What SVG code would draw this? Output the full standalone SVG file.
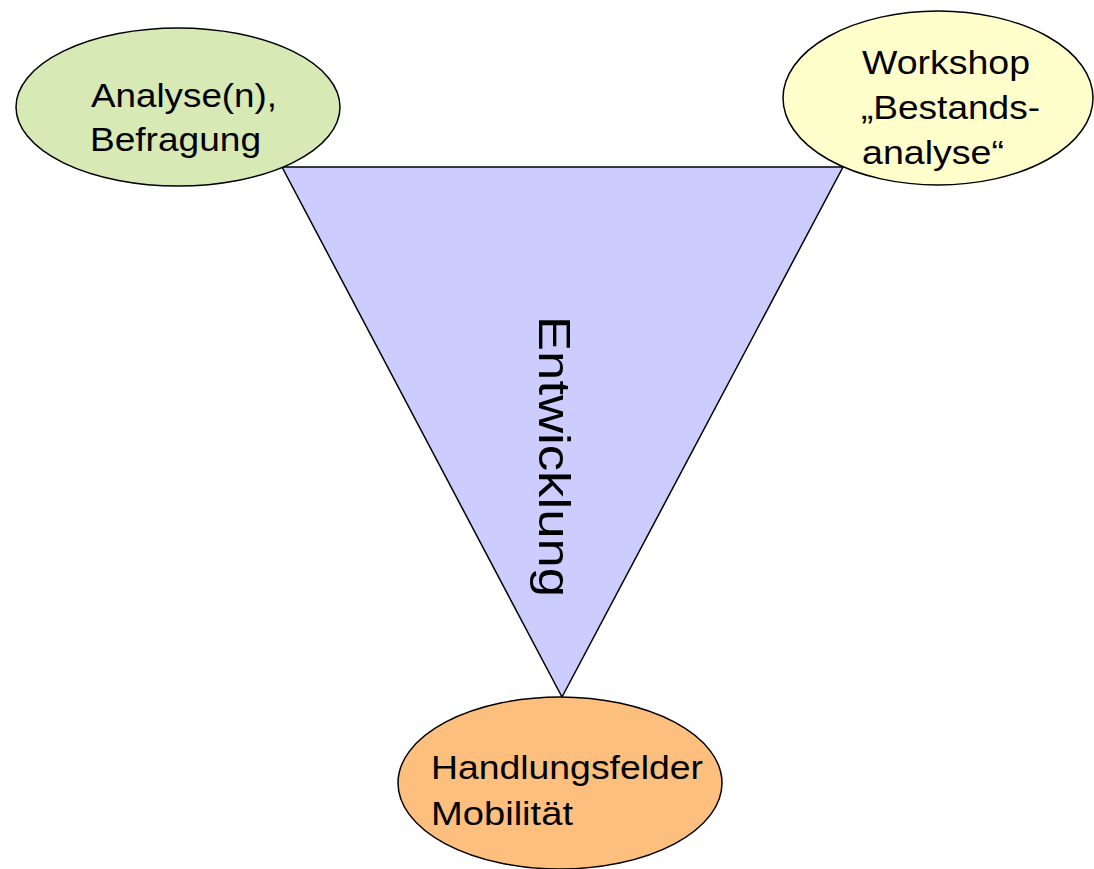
<svg xmlns="http://www.w3.org/2000/svg" width="1094" height="869" viewBox="0 0 1094 869">
<style>
.shape{stroke:#000;stroke-width:1.5}
.t{font-family:"Liberation Sans",Arial,sans-serif;font-size:34px;fill:#000}
</style>
<rect width="1094" height="869" fill="#fff"/>
<g id="entwicklung">
<polygon class="shape" points="282,167 843,167 562,697" fill="#CCCCFF"/>
<text class="t" style="font-size:45px" transform="translate(539,316) rotate(90)" textLength="281" lengthAdjust="spacingAndGlyphs">Entwicklung</text>
</g>
<g id="analyse">
<ellipse class="shape" cx="178" cy="107" rx="162" ry="79" fill="#D7E9B5"/>
<text class="t" x="91" y="107" textLength="186" lengthAdjust="spacingAndGlyphs">Analyse(n),</text>
<text class="t" x="90" y="151" textLength="171" lengthAdjust="spacingAndGlyphs">Befragung</text>
</g>
<g id="workshop">
<ellipse class="shape" cx="938" cy="98" rx="155" ry="87" fill="#FFFFCC"/>
<text class="t" x="862" y="74" textLength="168" lengthAdjust="spacingAndGlyphs">Workshop</text>
<text class="t" x="861" y="119" textLength="179" lengthAdjust="spacingAndGlyphs">„Bestands-</text>
<text class="t" x="862" y="164" textLength="142" lengthAdjust="spacingAndGlyphs">analyse“</text>
</g>
<g id="handlungsfelder">
<ellipse class="shape" cx="560" cy="783" rx="162" ry="86" fill="#FDBF7D"/>
<text class="t" x="431" y="779" textLength="272" lengthAdjust="spacingAndGlyphs">Handlungsfelder</text>
<text class="t" x="431" y="825" textLength="142" lengthAdjust="spacingAndGlyphs">Mobilität</text>
</g>
<g id="connectors"/>
</svg>
